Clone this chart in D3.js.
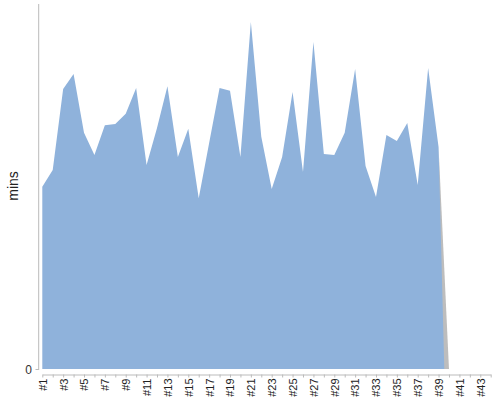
<!DOCTYPE html>
<html><head><meta charset="utf-8">
<script src="https://cdnjs.cloudflare.com/ajax/libs/d3/7.8.5/d3.min.js"></script>
<style>body{margin:0;background:#fff}svg{display:block}</style>
</head><body>
<svg id="c" width="500" height="400"></svg>
<script>
const categories = d3.range(1, 45).map(i => "#" + i);
const mins = [49.9,54.5,76.7,80.8,64.7,58.6,66.8,67.1,69.9,77.0,
              55.9,66.0,77.5,58.1,65.8,46.8,61.9,77.0,76.2,58.1,
              95.1,63.6,49.3,58.1,75.9,54.0,89.6,58.9,58.6,64.7,
              82.2,55.6,47.1,64.1,62.5,67.4,50.4,82.5,60.8,0];
const yTicks = [0];
const yLabel = "mins";

(function () {
const svg = d3.select("#c");
const mLeft = 42.3, mRight = 490.7, mTop = 4, mBottom = 369;
const x = d3.scalePoint().domain(categories).range([mLeft, mRight]);
const xi = d3.scaleLinear().domain([0, categories.length - 1]).range([mLeft, mRight]);
const y = d3.scaleLinear().domain([0, 100]).range([mBottom, mTop]);

// gray trailing segment (behind)
const n = mins.length;
const grayData = mins.slice(n - 2).map((v, k) => ({i: n - 2 + k, v}));
const area = d3.area().x(d => xi(d.i)).y0(y(0)).y1(d => y(d.v));
svg.append("path").datum(grayData).attr("d", area).attr("fill", "#bdbdbd");

// blue main area
const blueData = mins.slice(0, n - 1).map((v, i) => ({i, v}));
blueData.push({i: n - 2 + 0.55, v: 0});
svg.append("path").datum(blueData).attr("d", area).attr("fill", "#8fb2db");

// y axis
svg.append("line").attr("x1", 38.7).attr("x2", 38.7).attr("y1", mTop).attr("y2", mBottom + 1)
  .attr("stroke", "#bbb").attr("stroke-width", 1);
yTicks.forEach(t => {
  svg.append("line").attr("x1", 35.5).attr("x2", 38.7).attr("y1", y(t) + 0.5).attr("y2", y(t) + 0.5)
    .attr("stroke", "#bbb");
  svg.append("text").attr("x", 32).attr("y", y(t) + 1).attr("dy", "0.35em")
    .attr("text-anchor", "end").attr("font-family", "Liberation Sans, Arial, sans-serif")
    .attr("font-size", 12).attr("fill", "#333").text(t);
});
svg.append("text").attr("transform", "translate(18,186) rotate(-90)")
  .attr("text-anchor", "middle").attr("font-family", "Liberation Sans, Arial, sans-serif")
  .attr("font-size", 14).attr("fill", "#222").text(yLabel);

// x axis
const xAxis = d3.axisBottom(x).tickSizeInner(3).tickSizeOuter(0)
  .tickFormat((d, i) => i % 2 === 0 ? d : "");
const gx = svg.append("g").attr("transform", "translate(0,374.5)").call(xAxis);
gx.select(".domain").attr("stroke", "#bbb");
gx.selectAll(".tick line").attr("stroke", "#bbb");
gx.selectAll(".tick text")
  .attr("font-family", "Liberation Sans, Arial, sans-serif").attr("font-size", 11).attr("fill", "#222")
  .attr("transform", "rotate(-90)").attr("text-anchor", "end")
  .attr("x", -4).attr("y", 0).attr("dy", "0.35em");
})();
</script>
</body></html>
